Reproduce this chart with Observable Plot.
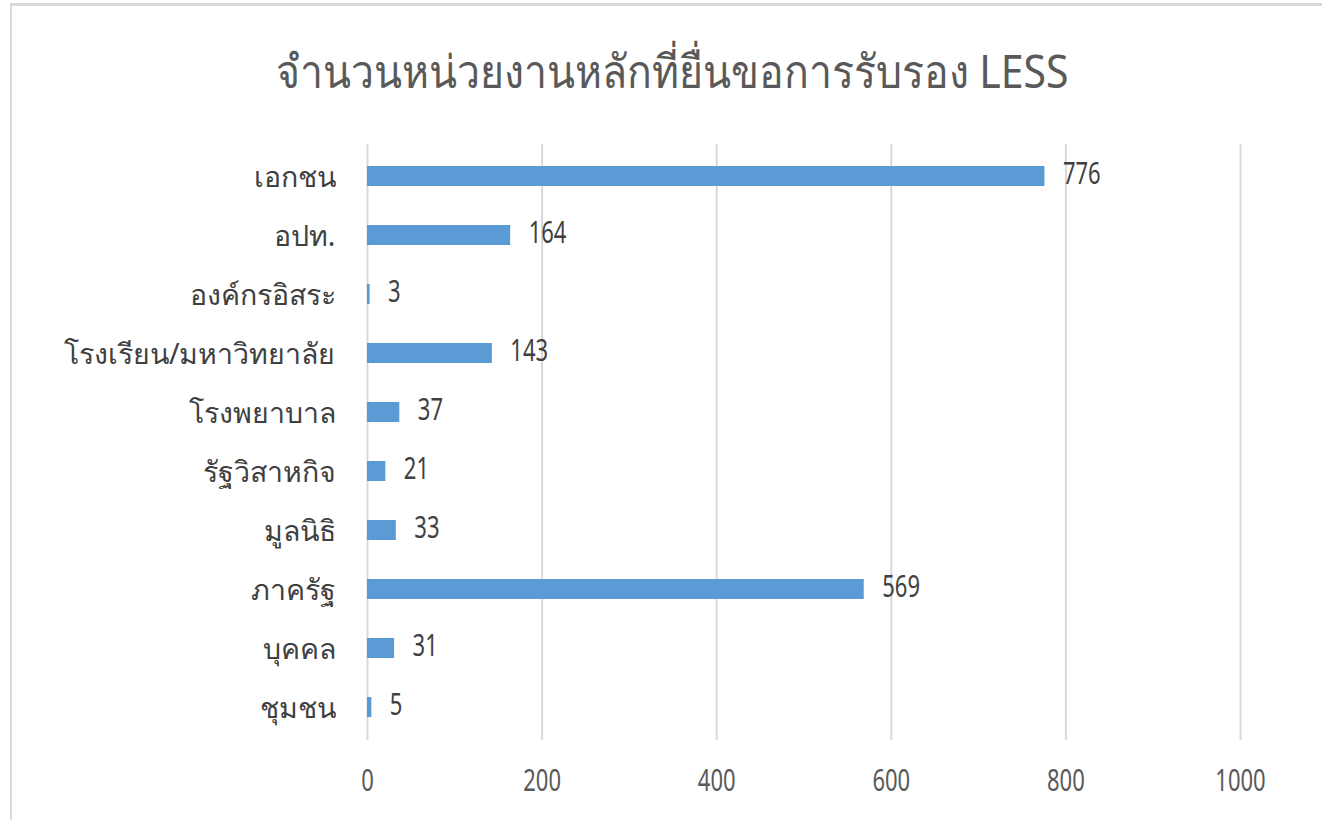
<!DOCTYPE html>
<html>
<head>
<meta charset="utf-8">
<script src="https://cdn.jsdelivr.net/npm/d3@7"></script>
<script src="https://cdn.jsdelivr.net/npm/@observablehq/plot@0.6"></script>
<style>
  html, body { margin: 0; padding: 0; background: #fff; }
  #frame {
    position: relative; width: 1322px; height: 820px; overflow: hidden;
    box-sizing: border-box; background: #fff;
  }
  #border {
    position: absolute; left: 10px; top: 3px; right: -10px; bottom: -10px;
    border-left: 2px solid #d9d9d9; border-top: 3px solid #d9d9d9;
  }
  #title {
    position: absolute; left: 0; top: 40px; width: 1344px; text-align: center;
    font-family: "Noto Sans", "DejaVu Sans", sans-serif; font-size: 41px; color: #595959;
    line-height: 60px; transform: scaleY(1.12); transform-origin: center;
  }
  #chart { position: absolute; left: 0; top: 140px; }
</style>
</head>
<body>
<div id="frame">
  <div id="border"></div>
  <div id="title">จำนวนหน่วยงานหลักที่ยื่นขอการรับรอง LESS</div>
  <div id="chart"></div>
</div>
<script>
const categories = ["เอกชน", "อปท.", "องค์กรอิสระ", "โรงเรียน/มหาวิทยาลัย", "โรงพยาบาล", "รัฐวิสาหกิจ", "มูลนิธิ", "ภาครัฐ", "บุคคล", "ชุมชน"];
const values = [776, 164, 3, 143, 37, 21, 33, 569, 31, 5];
const xTicks = [0, 200, 400, 600, 800, 1000];

const data = categories.map((c, i) => ({category: c, value: values[i]}));

const chart = Plot.plot({
  width: 1322,
  height: 680,
  marginTop: 6,
  marginBottom: 82,
  marginLeft: 367,
  marginRight: 82,
  style: {fontFamily: "'Noto Sans', 'DejaVu Sans', sans-serif", color: "#595959", background: "transparent"},
  x: {domain: [0, 1000], ticks: xTicks, label: null, tickFormat: d => String(d)},
  y: {domain: categories, paddingInner: 0.66, paddingOuter: 0.33, label: null},
  marks: [
    Plot.ruleX(xTicks, {stroke: "#d9d9d9", strokeWidth: 2, insetTop: -2, insetBottom: -2}),
    Plot.barX(data, {x: "value", y: "category", fill: "#5b9bd5"}),
    Plot.text(data, {x: "value", y: "category", text: d => String(d.value), textAnchor: "start", dx: 18, dy: -2, fill: "#404040", fontSize: 22}),
    Plot.axisX(xTicks, {tickSize: 0, tickPadding: 31, fontSize: 22, fill: "#595959", tickFormat: d => String(d)}),
    Plot.axisY({tickSize: 0, tickPadding: 32, fontSize: 28.5, fill: "#404040", dy: 1})
  ]
});
document.getElementById("chart").appendChild(chart);
// narrow-tall numerals like the reference: stretch number texts vertically in place
d3.select(chart)
  .selectAll('g[aria-label="x-axis tick label"] text, g[aria-label="text"] text')
  .each(function () {
    const t = this.getAttribute("transform") || "";
    this.setAttribute("transform", `${t} scale(1,1.4)`);
  });
</script>
</body>
</html>
